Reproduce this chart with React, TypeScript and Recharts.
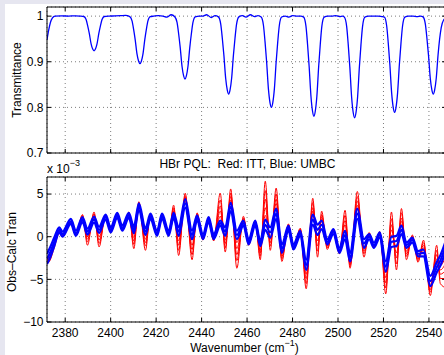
import React from 'react';
import { LineChart, Line, XAxis, YAxis, CartesianGrid, ReferenceLine } from 'recharts';

// ---------- data ----------
// Top panel: transmittance spectrum (wavenumber, transmittance)
const transWn = [
  2372.0, 2372.7, 2373.5, 2374.4, 2375.5, 2378.5, 2381.5, 2384.5, 2386.5,
  2388.2, 2389.2, 2389.9, 2390.6, 2391.4, 2392.1, 2392.7, 2393.3, 2394.0, 2394.8, 2395.5, 2396.2, 2397.2,
  2399.5, 2402.0, 2404.5, 2406.5,
  2408.4, 2409.4, 2410.1, 2410.8, 2411.6, 2412.3, 2412.9, 2413.5, 2414.2, 2415.0, 2415.7, 2416.4, 2417.4,
  2419.0, 2421.0, 2423.0, 2424.7, 2426.6,
  2428.2, 2429.2, 2429.9, 2430.6, 2431.4, 2432.1, 2432.7, 2433.3, 2434.0, 2434.8, 2435.5, 2436.2, 2437.2,
  2439.0, 2440.6, 2442.2, 2444.3, 2445.9,
  2447.4, 2448.4, 2449.1, 2449.8, 2450.6, 2451.3, 2451.9, 2452.5, 2453.2, 2454.0, 2454.7, 2455.4, 2456.4,
  2458.0, 2459.5, 2461.5, 2463.3, 2464.8,
  2466.2, 2467.2, 2467.9, 2468.6, 2469.4, 2470.1, 2470.7, 2471.3, 2472.0, 2472.8, 2473.5, 2474.2, 2475.2,
  2476.8, 2478.4, 2480.0, 2482.0, 2483.6,
  2484.9, 2485.9, 2486.6, 2487.3, 2488.1, 2488.8, 2489.4, 2490.0, 2490.7, 2491.5, 2492.2, 2492.9, 2493.9,
  2495.5, 2497.3, 2499.0, 2500.7, 2502.0,
  2502.8, 2503.8, 2504.5, 2505.2, 2506.0, 2506.7, 2507.3, 2507.9, 2508.6, 2509.4, 2510.1, 2510.8, 2511.8,
  2513.5, 2515.5, 2517.5, 2519.2,
  2520.4, 2521.4, 2522.1, 2522.8, 2523.6, 2524.3, 2524.9, 2525.5, 2526.2, 2527.0, 2527.7, 2528.4, 2529.4,
  2531.0, 2533.0, 2534.8, 2536.3,
  2537.4, 2538.4, 2539.1, 2539.8, 2540.6, 2541.3, 2541.9, 2542.5, 2543.2, 2544.0, 2544.7, 2545.4, 2546.5, 2547.5,
];
const transVal = [
  0.948, 0.968, 0.986, 0.996, 1.0, 1.0004, 1.0002, 1.0005, 1.0,
  0.9992, 0.9924, 0.9787, 0.962, 0.9392, 0.9278, 0.924, 0.9278, 0.9392, 0.962, 0.9787, 0.9924, 0.9992,
  1.0, 1.0004, 1.001, 1.0015,
  0.999, 0.9896, 0.9709, 0.948, 0.9168, 0.9012, 0.896, 0.9012, 0.9168, 0.948, 0.9709, 0.9896, 0.999,
  1.0, 1.001, 1.0, 0.998, 1.003,
  0.9986, 0.9862, 0.9614, 0.931, 0.8896, 0.8689, 0.862, 0.8689, 0.8896, 0.931, 0.9614, 0.9862, 0.9986,
  1.0, 1.0, 1.003, 0.997, 1.001,
  0.9983, 0.9829, 0.9521, 0.9145, 0.8632, 0.8376, 0.829, 0.8376, 0.8632, 0.9145, 0.9521, 0.9829, 0.9983,
  1.001, 0.998, 1.003, 0.999, 1.001,
  0.998, 0.98, 0.944, 0.9, 0.84, 0.81, 0.8, 0.81, 0.84, 0.9, 0.944, 0.98, 0.998,
  1.0, 0.998, 1.001, 1.0, 1.0,
  0.9978, 0.978, 0.9385, 0.8903, 0.8244, 0.7915, 0.7805, 0.7915, 0.8244, 0.8903, 0.9385, 0.978, 0.9978,
  1.0, 1.0, 1.001, 0.999, 1.0,
  0.9978, 0.9777, 0.9376, 0.8885, 0.8216, 0.7882, 0.777, 0.7882, 0.8216, 0.8885, 0.9376, 0.9777, 0.9978,
  1.0, 1.0, 1.0, 0.999,
  0.9979, 0.9789, 0.9409, 0.8945, 0.8312, 0.7996, 0.789, 0.7996, 0.8312, 0.8945, 0.9409, 0.9789, 0.9979,
  1.0, 1.0, 0.999, 1.0,
  0.9983, 0.9829, 0.9521, 0.9145, 0.8632, 0.8376, 0.829, 0.8376, 0.8632, 0.9145, 0.95, 0.975, 0.992, 0.996,
];

// Bottom panel: residuals (x 10^-3)
const residWn = [
  2372.0, 2373.3, 2375.2, 2377.4, 2378.8, 2382.5, 2384.7, 2387.6, 2389.8, 2392.7,
  2394.9, 2397.8, 2400.0, 2402.9, 2405.1, 2408.0, 2410.2, 2412.4, 2415.3, 2417.5,
  2420.4, 2422.6, 2425.5, 2427.7, 2429.9, 2432.8, 2435.8, 2438.0, 2440.6, 2443.1,
  2445.3, 2448.2, 2450.4, 2452.8, 2455.5, 2458.4, 2460.7, 2463.6, 2465.8, 2468.0,
  2470.2, 2472.8, 2475.3, 2478.2, 2480.4, 2483.4, 2486.0, 2488.9, 2491.0, 2492.8,
  2495.3, 2498.0, 2500.6, 2503.1, 2505.3, 2508.5, 2511.4, 2513.7, 2515.8, 2518.4,
  2521.0, 2523.5, 2525.7, 2527.9, 2530.1, 2532.7, 2535.2, 2537.6, 2540.6, 2543.4,
  2545.0, 2547.5,
];
const umbcMid = [
  -2.6, -1.9, -0.6, 0.8, 0.3, 1.8, 0.4, 2.0, 0.6, 2.0,
  0.8, 2.3, 0.8, 2.5, 1.0, 2.5, 0.8, 3.5, 0.6, 2.4,
  0.4, 2.4, 0.4, 2.5, 0.6, 3.9, 0.2, 2.2, 0.0, 2.0,
  0.0, 1.6, 0.6, 3.5, 0.2, 1.6, -0.6, 1.6, -0.8, 1.4,
  0.5, 2.7, -1.4, 1.0, -1.2, 0.4, -3.3, 2.0, 0.8, 1.4,
  -0.6, 0.6, -1.6, 0.2, -2.4, 2.7, -0.8, 0.0, -1.0, 0.2,
  -3.5, -0.6, -0.5, 0.8, -1.0, -0.4, -2.0, -1.9, -5.2, -3.6,
  -2.8, -1.0,
];
const umbcHigh = [
  -2.0, -1.3, -0.1, 1.1, 0.6, 2.1, 0.7, 2.3, 0.95, 2.35,
  1.15, 2.6, 1.1, 2.8, 1.3, 2.8, 1.2, 3.9, 1.0, 2.7,
  0.7, 2.7, 0.7, 2.8, 1.1, 4.4, 0.7, 2.5, 0.3, 2.3,
  0.3, 1.9, 1.1, 4.0, 0.7, 1.9, -0.3, 1.9, -0.5, 2.0,
  1.1, 3.3, -0.9, 1.3, -0.9, 0.7, -2.7, 2.6, 1.4, 1.9,
  -0.3, 0.9, -1.3, 0.7, -1.9, 3.3, -0.3, 0.3, -0.7, 0.5,
  -2.9, 0.0, 0.1, 1.3, -0.7, -0.1, -1.7, -1.5, -4.6, -3.0,
  -2.2, -0.4,
];
const umbcLow = [
  -3.2, -2.5, -1.1, 0.5, 0.0, 1.5, 0.1, 1.7, 0.25, 1.65,
  0.45, 2.0, 0.5, 2.2, 0.7, 2.2, 0.4, 3.1, 0.2, 2.1,
  0.1, 2.1, 0.1, 2.2, 0.1, 3.4, -0.3, 1.9, -0.3, 1.7,
  -0.3, 1.3, 0.1, 3.0, -0.3, 1.3, -0.9, 1.3, -1.1, 0.8,
  -0.1, 2.1, -1.9, 0.7, -1.5, 0.1, -3.9, 1.4, 0.2, 0.9,
  -0.9, 0.3, -1.9, -0.3, -2.9, 2.1, -1.3, -0.3, -1.3, -0.1,
  -4.1, -1.2, -1.1, 0.3, -1.3, -0.7, -2.3, -2.3, -5.8, -4.2,
  -3.4, -1.6,
];
const itt1 = [
  -3.2, -2.8, -1.3, 0.4, 0.0, 1.5, 0.2, 2.6, -1.0, 2.9,
  -1.2, 2.6, 0.5, 2.7, 0.7, 2.9, -1.4, 4.1, -1.6, 2.7,
  0.2, 2.6, 0.1, 3.7, -2.2, 5.1, -2.7, 2.8, -0.4, 2.3,
  -0.5, 5.1, -1.8, 5.6, -3.7, 2.4, -1.0, 1.9, -2.7, 6.5,
  -1.6, 5.7, -2.9, 1.5, -1.5, 1.0, -6.1, 4.5, -2.4, 3.0,
  -1.5, 0.9, -2.0, 3.1, -3.7, 5.3, -2.4, 0.5, -1.3, 0.6,
  -6.7, 2.9, -3.9, 3.3, -2.7, 0.2, -3.0, -0.4, -6.9, -1.0,
  -5.5, -6.0,
];
const itt2 = [
  -3.1, -2.6, -1.1, 0.5, 0.1, 1.6, 0.2, 2.5, -0.6, 2.7,
  -0.8, 2.5, 0.6, 2.7, 0.8, 2.8, -0.9, 4.0, -1.1, 2.6,
  0.2, 2.6, 0.2, 3.4, -1.6, 4.8, -2.1, 2.7, -0.3, 2.2,
  -0.4, 4.3, -1.3, 5.1, -2.8, 2.2, -0.9, 1.8, -2.3, 5.4,
  -1.1, 5.0, -2.6, 1.4, -1.4, 0.9, -5.5, 4.0, -1.7, 2.6,
  -1.3, 0.8, -1.9, 2.5, -3.4, 4.7, -2.0, 0.4, -1.2, 0.5,
  -6.0, 2.1, -3.2, 2.8, -2.3, 0.1, -2.8, -0.7, -6.5, -1.6,
  -4.9, -4.9,
];
const itt3 = [
  -2.9, -2.4, -1.0, 0.6, 0.1, 1.6, 0.3, 2.3, -0.3, 2.5,
  -0.4, 2.5, 0.6, 2.6, 0.8, 2.7, -0.5, 3.8, -0.7, 2.6,
  0.3, 2.5, 0.2, 3.2, -1.0, 4.6, -1.5, 2.5, -0.2, 2.2,
  -0.3, 3.6, -0.8, 4.7, -2.1, 2.1, -0.8, 1.8, -1.9, 4.4,
  -0.7, 4.4, -2.3, 1.3, -1.4, 0.7, -4.9, 3.4, -1.1, 2.3,
  -1.1, 0.8, -1.8, 1.9, -3.2, 4.2, -1.7, 0.3, -1.2, 0.4,
  -5.4, 1.4, -2.5, 2.2, -2.0, -0.1, -2.6, -1.0, -6.2, -2.1,
  -4.4, -3.9,
];
const itt4 = [
  -2.8, -2.3, -0.9, 0.6, 0.2, 1.7, 0.3, 2.2, 0.0, 2.4,
  0.0, 2.4, 0.7, 2.6, 0.9, 2.7, -0.1, 3.7, -0.3, 2.5,
  0.3, 2.5, 0.3, 3.0, -0.5, 4.4, -1.0, 2.4, -0.2, 2.1,
  -0.2, 3.0, -0.4, 4.3, -1.4, 1.9, -0.8, 1.7, -1.6, 3.4,
  -0.3, 3.9, -2.0, 1.2, -1.3, 0.6, -4.4, 3.0, -0.5, 2.0,
  -1.0, 0.7, -1.8, 1.4, -2.9, 3.7, -1.4, 0.2, -1.1, 0.4,
  -4.8, 0.8, -1.9, 1.8, -1.7, -0.2, -2.4, -1.3, -5.9, -2.6,
  -3.9, -3.0,
];
const itt5 = [
  -2.7, -2.1, -0.8, 0.7, 0.2, 1.7, 0.4, 2.1, 0.2, 2.2,
  0.4, 2.4, 0.7, 2.5, 0.9, 2.6, 0.3, 3.6, 0.1, 2.5,
  0.4, 2.4, 0.3, 2.8, 0.0, 4.2, -0.4, 2.3, -0.1, 2.1,
  -0.1, 2.4, 0.1, 4.0, -0.7, 1.8, -0.7, 1.7, -1.2, 2.5,
  0.0, 3.4, -1.7, 1.1, -1.3, 0.5, -3.9, 2.5, 0.1, 1.8,
  -0.8, 0.7, -1.7, 0.8, -2.7, 3.3, -1.2, 0.1, -1.1, 0.3,
  -4.2, 0.2, -1.2, 1.4, -1.4, -0.3, -2.2, -1.6, -5.6, -3.0,
  -3.4, -2.1,
];

const xTicks = [2380, 2400, 2420, 2440, 2460, 2480, 2500, 2520, 2540];
const topYTicks = [0.7, 0.8, 0.9, 1];
const topYLabels = ['0.7', '0.8', '0.9', '1'];
const botYTicks = [-10, -5, 0, 5];
const botYLabels = ['\u221210', '\u22125', '0', '5'];
const xDomain: [number, number] = [2372, 2547.5];
const topYDomain: [number, number] = [0.7, 1.02];
const botYDomain: [number, number] = [-10, 7];

const topData = transWn.map((wn, i) => ({ wn, t: transVal[i] }));
const botData = residWn.map((wn, i) => ({
  wn,
  r1: itt1[i], r2: itt2[i], r3: itt3[i], r4: itt4[i], r5: itt5[i],
  bH: umbcHigh[i], bM: umbcMid[i], bL: umbcLow[i],
}));

// ---------- layout ----------
const FONT = '"Liberation Sans", Arial, Helvetica, sans-serif';
const CW = 460;
const LEFT = 47;
const RIGHT = 446;
const TOP_H = 160;
const TOP_PT = 7;
const TOP_PB = 153;
const BOT_H = 195;
const BOT_PT = 17;
const BOT_PB = 162;

const makeXTick = (pt: number, pb: number, label: boolean) => (props: any) => {
  const { x, payload } = props;
  return (
    <g>
      <line x1={x} x2={x} y1={pt} y2={pt + 4} stroke="#000" strokeWidth={1} />
      <line x1={x} x2={x} y1={pb} y2={pb - 4} stroke="#000" strokeWidth={1} />
      {label && (
        <text x={x} y={pb + 14.5} textAnchor="middle" fontSize={12} fontFamily={FONT} fill="#000">
          {payload.value}
        </text>
      )}
    </g>
  );
};

const makeYTick = (ticks: number[], labels: string[]) => (props: any) => {
  const { y, payload } = props;
  const idx = ticks.findIndex((t) => Math.abs(t - payload.value) < 1e-9);
  return (
    <g>
      <line x1={LEFT} x2={LEFT + 4} y1={y} y2={y} stroke="#000" strokeWidth={1} />
      <line x1={RIGHT} x2={RIGHT - 4} y1={y} y2={y} stroke="#000" strokeWidth={1} />
      <text x={43.5} y={y + 4.3} textAnchor="end" fontSize={12} fontFamily={FONT} fill="#000">
        {idx >= 0 ? labels[idx] : String(payload.value)}
      </text>
    </g>
  );
};

const gridProps = { stroke: '#7d7d7d', strokeDasharray: '1 3', strokeWidth: 1 };

export default function App() {
  return (
    <div style={{ position: 'fixed', left: 0, top: 0, width: 444, height: 355, overflow: 'hidden', background: '#e6e6f0' }}>
      <div style={{ position: 'absolute', left: 5, top: 4, right: 0, bottom: 0, background: '#ffffff' }} />

      <div style={{ position: 'absolute', left: 0, top: 0 }}>
        <LineChart width={CW} height={TOP_H} data={topData} margin={{ top: TOP_PT, right: CW - RIGHT, bottom: 0, left: 0 }}>
          <CartesianGrid {...gridProps} />
          <XAxis
            dataKey="wn"
            type="number"
            domain={xDomain}
            ticks={xTicks}
            interval={0}
            allowDataOverflow
            height={TOP_H - TOP_PB}
            axisLine={{ stroke: '#000' }}
            tickLine={false}
            tick={makeXTick(TOP_PT, TOP_PB, false)}
          />
          <YAxis
            type="number"
            domain={topYDomain}
            ticks={topYTicks}
            interval={0}
            allowDataOverflow
            width={LEFT}
            axisLine={{ stroke: '#000' }}
            tickLine={false}
            tick={makeYTick(topYTicks, topYLabels)}
          />
          <ReferenceLine y={topYDomain[1]} stroke="#000" />
          <ReferenceLine x={xDomain[1]} stroke="#000" />
          <Line type="monotone" dataKey="t" stroke="#0000ff" strokeWidth={1.3} dot={false} isAnimationActive={false} />
        </LineChart>
      </div>

      <div style={{ position: 'absolute', left: 0, top: TOP_H }}>
        <LineChart width={CW} height={BOT_H} data={botData} margin={{ top: BOT_PT, right: CW - RIGHT, bottom: 0, left: 0 }}>
          <CartesianGrid {...gridProps} />
          <XAxis
            dataKey="wn"
            type="number"
            domain={xDomain}
            ticks={xTicks}
            interval={0}
            allowDataOverflow
            height={BOT_H - BOT_PB}
            axisLine={{ stroke: '#000' }}
            tickLine={false}
            tick={makeXTick(BOT_PT, BOT_PB, true)}
          />
          <YAxis
            type="number"
            domain={botYDomain}
            ticks={botYTicks}
            interval={0}
            allowDataOverflow
            width={LEFT}
            axisLine={{ stroke: '#000' }}
            tickLine={false}
            tick={makeYTick(botYTicks, botYLabels)}
          />
          <ReferenceLine y={botYDomain[1]} stroke="#000" />
          <ReferenceLine x={xDomain[1]} stroke="#000" />
          <Line type="monotone" dataKey="r5" stroke="#ff0000" strokeWidth={1} dot={false} isAnimationActive={false} />
          <Line type="monotone" dataKey="r4" stroke="#ff0000" strokeWidth={1} dot={false} isAnimationActive={false} />
          <Line type="monotone" dataKey="r3" stroke="#ff0000" strokeWidth={1} dot={false} isAnimationActive={false} />
          <Line type="monotone" dataKey="r2" stroke="#ff0000" strokeWidth={1} dot={false} isAnimationActive={false} />
          <Line type="monotone" dataKey="r1" stroke="#ff0000" strokeWidth={1} dot={false} isAnimationActive={false} />
          <Line type="monotone" dataKey="bH" stroke="#0000ff" strokeWidth={2.2} dot={false} isAnimationActive={false} />
          <Line type="monotone" dataKey="bL" stroke="#0000ff" strokeWidth={2.2} dot={false} isAnimationActive={false} />
          <Line type="monotone" dataKey="bM" stroke="#0000ff" strokeWidth={2.2} dot={false} isAnimationActive={false} />
        </LineChart>
      </div>

      <svg width={444} height={355} style={{ position: 'absolute', left: 0, top: 0, pointerEvents: 'none' }}>
        <g fontFamily={FONT} fill="#000">
          <text transform="translate(20.5,80) rotate(-90)" textAnchor="middle" fontSize={12}>Transmittance</text>
          <text transform="translate(16,252) rotate(-90)" textAnchor="middle" fontSize={12}>Obs–Calc Tran</text>
          <text x={247.5} y={167.5} textAnchor="middle" fontSize={12}>HBr PQL:{'\u00a0'} Red: ITT, Blue: UMBC</text>
          <text x={47} y={172.5} fontSize={12}>
            x 10<tspan dy={-6.5} fontSize={9}>{'\u22123'}</tspan>
          </text>
          <text x={244.5} y={351.5} textAnchor="middle" fontSize={12}>
            Wavenumber (cm<tspan dy={-5.5} fontSize={9}>{'\u22121'}</tspan><tspan dy={5.5}>)</tspan>
          </text>
        </g>
      </svg>
    </div>
  );
}
